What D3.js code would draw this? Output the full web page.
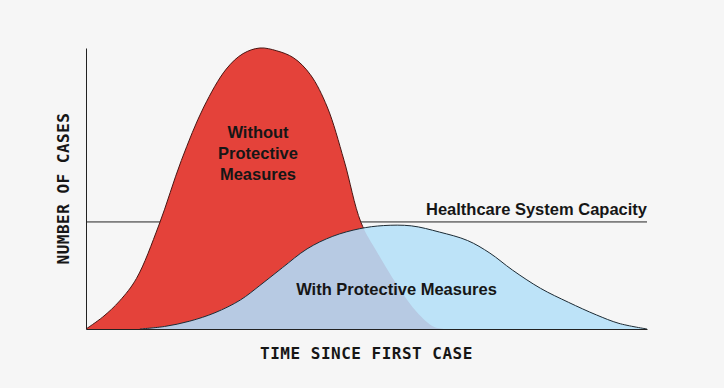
<!DOCTYPE html>
<html>
<head>
<meta charset="utf-8">
<script src="https://cdn.jsdelivr.net/npm/d3@7"></script>
<style>
  html, body { margin: 0; padding: 0; background: #f6f6f6; }
  svg { display: block; }
  .curve-label { font-family: "Liberation Sans", Arial, sans-serif; font-weight: bold; font-size: 16.5px; fill: #161616; }
  .axis-label { font-family: "DejaVu Sans Mono", monospace; font-weight: bold; font-size: 16px; letter-spacing: 0.5px; fill: #161616; }
</style>
</head>
<body>
<svg width="724" height="388"></svg>
<script>
const svg = d3.select("svg");
const width = +svg.attr("width");
const height = +svg.attr("height");
const margin = {top: 48, right: 77, bottom: 59, left: 86};
const innerWidth = width - margin.left - margin.right;
const innerHeight = height - margin.top - margin.bottom;

// time since first case (0-100) vs number of cases (0-100, peak = 100)
const timeWithout = [0, 3, 6, 9, 13, 17, 21, 25, 28, 31, 34, 37, 40, 43, 46, 49, 52, 56, 59, 62, 64];
const casesWithout = [0, 4.3, 10, 18, 37, 60, 79, 92.5, 98, 100, 99, 96.5, 90.5, 79, 60, 38, 27, 14, 6, 0.8, 0];

const timeWith = [9.6, 14, 18.5, 23, 27.5, 31, 35, 39.4, 44, 48.8, 53, 58, 63, 68, 72, 76, 81, 86, 91, 95, 100];
const casesWith = [0, 0.9, 2.8, 5.8, 10.3, 15.5, 21.8, 28.5, 33, 35.7, 36.8, 36.7, 34.5, 31.5, 27, 21, 14.5, 9.5, 5, 2, 0];

const capacity = 38.1;

const without = timeWithout.map((t, i) => ({t: t, v: casesWithout[i]}));
const withM = timeWith.map((t, i) => ({t: t, v: casesWith[i]}));

const g = svg.append("g").attr("transform", `translate(${margin.left},${margin.top})`);

const x = d3.scaleLinear().domain([0, 100]).range([0, innerWidth]);
const y = d3.scaleLinear().domain([0, 100]).range([innerHeight, 0]);

const curve = d3.curveCatmullRom.alpha(0.5);

const area = d3.area()
  .x(d => x(d.t))
  .y0(y(0))
  .y1(d => y(d.v))
  .curve(curve);

const line = d3.line()
  .x(d => x(d.t))
  .y(d => y(d.v))
  .curve(curve);

// capacity line (behind the curves)
g.append("line")
  .attr("x1", x(0)).attr("x2", x(100))
  .attr("y1", y(capacity)).attr("y2", y(capacity))
  .attr("stroke", "#222")
  .attr("stroke-width", 1);

// clip for the overlap of both curves
g.append("clipPath")
  .attr("id", "redClip")
  .append("path")
  .attr("d", area(without));

// red curve
g.append("path")
  .attr("d", area(without))
  .attr("fill", "#e4423a");
g.append("path")
  .attr("d", line(without))
  .attr("fill", "none")
  .attr("stroke", "#4a1512")
  .attr("stroke-width", 1);

// blue curve
g.append("path")
  .attr("d", area(withM))
  .attr("fill", "#bde3f8");
g.append("path")
  .attr("d", area(withM))
  .attr("fill", "#b7cae3")
  .attr("clip-path", "url(#redClip)");
g.append("path")
  .attr("d", line(withM))
  .attr("fill", "none")
  .attr("stroke", "#1c2a33")
  .attr("stroke-width", 1);

// axes without ticks
g.append("g")
  .attr("transform", `translate(0,${innerHeight})`)
  .call(d3.axisBottom(x).tickValues([]).tickSizeOuter(0))
  .call(a => a.select(".domain").attr("stroke", "#222"));
g.append("g")
  .call(d3.axisLeft(y).tickValues([]).tickSizeOuter(0))
  .call(a => a.select(".domain").attr("stroke", "#222"));

// labels
["Without", "Protective", "Measures"].forEach((s, i) => {
  g.append("text")
    .attr("class", "curve-label")
    .attr("text-anchor", "middle")
    .attr("x", 258 - margin.left)
    .attr("y", 138 - margin.top + i * 21)
    .text(s);
});

g.append("text")
  .attr("class", "curve-label")
  .attr("text-anchor", "middle")
  .attr("x", 396.5 - margin.left)
  .attr("y", 295 - margin.top)
  .text("With Protective Measures");

g.append("text")
  .attr("class", "curve-label")
  .attr("text-anchor", "end")
  .attr("x", x(100))
  .attr("y", y(capacity) - 7)
  .text("Healthcare System Capacity");

g.append("text")
  .attr("class", "axis-label")
  .attr("text-anchor", "middle")
  .attr("x", innerWidth / 2)
  .attr("y", innerHeight + 30)
  .text("TIME SINCE FIRST CASE");

g.append("text")
  .attr("class", "axis-label")
  .attr("text-anchor", "middle")
  .attr("transform", "rotate(-90)")
  .attr("x", -innerHeight / 2)
  .attr("y", -17)
  .text("NUMBER OF CASES");
</script>
</body>
</html>
